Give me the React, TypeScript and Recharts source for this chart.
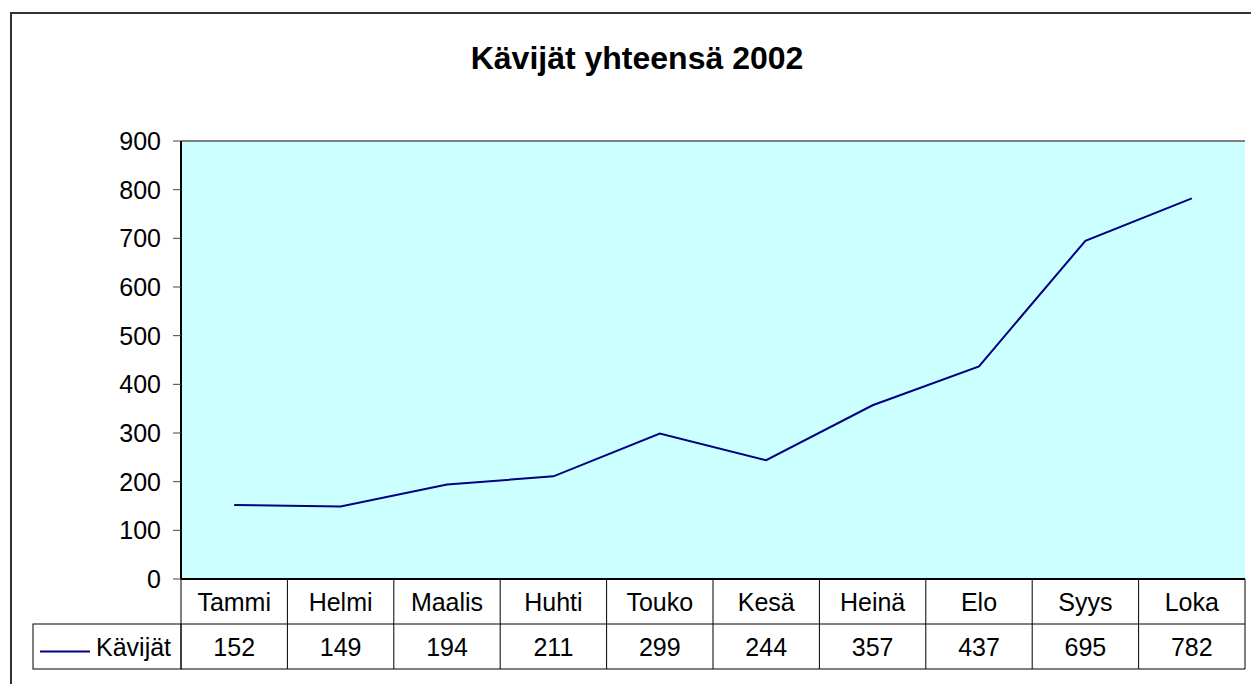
import React from "react";
import {
  LineChart,
  Line,
  XAxis,
  YAxis,
  CartesianGrid,
  ReferenceLine,
} from "recharts";

const months = ["Tammi", "Helmi", "Maalis", "Huhti", "Touko", "Kesä", "Heinä", "Elo", "Syys", "Loka"];
const visitors = [152, 149, 194, 211, 299, 244, 357, 437, 695, 782];
const yTicks = [0, 100, 200, 300, 400, 500, 600, 700, 800, 900];
const seriesName = "Kävijät";
const title = "Kävijät yhteensä 2002";

const data = months.map((m, i) => ({ month: m, value: visitors[i] }));

const FONT = '"Liberation Sans", Arial, sans-serif';
const LINE_COLOR = "#000080";
const ROW_H = 45;
const LEGEND_LEFT = 33;
const FS = 25;

// category + value rows of the data table, drawn per tick
function TableTick(props: any) {
  const { x, y, payload } = props;
  const half = payload?.offset || 53.2;
  const i = payload?.index ?? 0;
  const left = x - half;
  const right = x + half;
  const last = i === months.length - 1;
  return (
    <g fontFamily={FONT} fontSize={FS} fill="#000">
      <line x1={left} y1={y} x2={left} y2={y + 2 * ROW_H} stroke="#000" />
      {last && <line x1={right} y1={y} x2={right} y2={y + 2 * ROW_H} stroke="#000" />}
      <line x1={left} y1={y + ROW_H} x2={right} y2={y + ROW_H} stroke="#000" />
      <line x1={left} y1={y + 2 * ROW_H} x2={right} y2={y + 2 * ROW_H} stroke="#000" />
      <text x={x} y={y + ROW_H / 2 + 9} textAnchor="middle">
        {payload.value}
      </text>
      <text x={x} y={y + ROW_H * 1.5 + 9} textAnchor="middle">
        {visitors[i]}
      </text>
      {i === 0 && (
        <g>
          <rect
            x={LEGEND_LEFT}
            y={y + ROW_H}
            width={left - LEGEND_LEFT}
            height={ROW_H}
            fill="none"
            stroke="#000"
          />
          <line
            x1={40}
            y1={y + ROW_H * 1.5 + 5}
            x2={90}
            y2={y + ROW_H * 1.5 + 5}
            stroke={LINE_COLOR}
            strokeWidth={2}
          />
          <text x={96} y={y + ROW_H * 1.5 + 9} textAnchor="start">
            {seriesName}
          </text>
        </g>
      )}
    </g>
  );
}

export default function App() {
  return (
    <div
      style={{
        position: "absolute",
        left: 0,
        top: 0,
        width: 1251,
        height: 684,
        overflow: "hidden",
        background: "#fff",
      }}
    >
      <div
        style={{
          position: "absolute",
          left: 10,
          top: 12,
          width: 1300,
          height: 800,
          borderLeft: "2px solid #333",
          borderTop: "2px solid #333",
        }}
      />
      <div
        style={{
          position: "absolute",
          left: 0,
          width: 1274,
          top: 40,
          textAlign: "center",
          fontFamily: FONT,
          fontWeight: "bold",
          fontSize: 32,
          lineHeight: "36px",
        }}
      >
        {title}
      </div>
      <div style={{ position: "absolute", left: 0, top: 0 }}>
        <LineChart
          width={1251}
          height={684}
          data={data}
          margin={{ top: 141, right: 6, left: 0, bottom: 15 }}
        >
          <CartesianGrid horizontal={false} vertical={false} fill="#CCFFFF" stroke="none" />
          <ReferenceLine y={900} stroke="#808080" strokeWidth={2} />
          <XAxis
            dataKey="month"
            scale="band"
            height={90}
            tickSize={0}
            tickMargin={0}
            tickLine={false}
            axisLine={{ stroke: "#000", strokeWidth: 2 }}
            interval={0}
            tick={<TableTick />}
          />
          <YAxis
            width={181}
            domain={[0, 900]}
            ticks={yTicks}
            interval={0}
            tickSize={8}
            tickMargin={12}
            axisLine={{ stroke: "#000", strokeWidth: 2 }}
            tickLine={{ stroke: "#444" }}
            tick={{ fill: "#000", fontSize: FS, fontFamily: FONT }}
          />
          <YAxis
            yAxisId="r"
            orientation="right"
            width={0}
            domain={[0, 900]}
            tick={false}
            tickLine={false}
            axisLine={{ stroke: "#808080", strokeWidth: 2 }}
          />
          <Line
            type="linear"
            dataKey="value"
            name={seriesName}
            stroke={LINE_COLOR}
            strokeWidth={2}
            dot={false}
            activeDot={false}
            isAnimationActive={false}
          />
        </LineChart>
      </div>
    </div>
  );
}
